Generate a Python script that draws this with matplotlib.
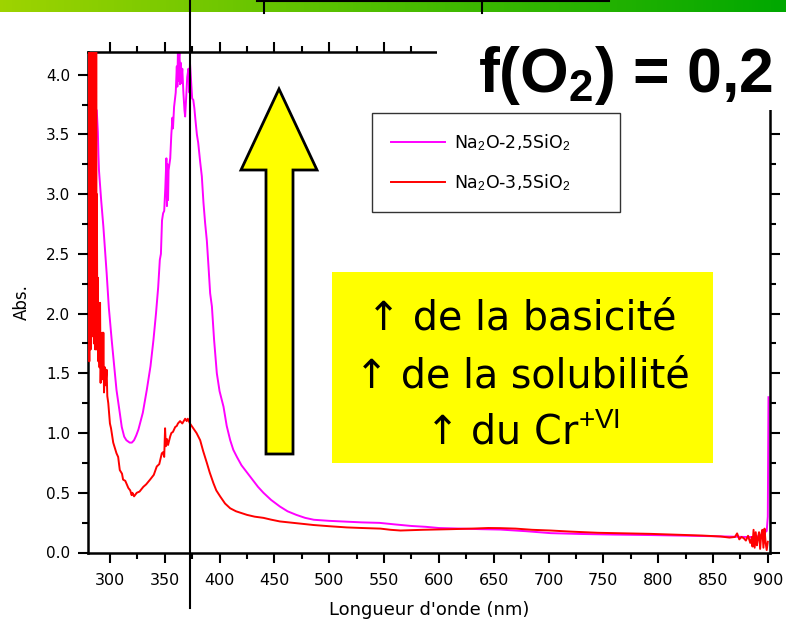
import matplotlib
matplotlib.use('Agg')
import matplotlib.pyplot as plt
import numpy as np
from matplotlib.patches import Rectangle, Polygon
from matplotlib.lines import Line2D
from matplotlib.colors import LinearSegmentedColormap

plt.rcParams['font.family'] = ['DejaVu Sans']
plt.rcParams['mathtext.fontset'] = 'custom'
plt.rcParams['mathtext.rm'] = 'Liberation Sans'
plt.rcParams['mathtext.it'] = 'Liberation Sans:italic'
plt.rcParams['mathtext.bf'] = 'Liberation Sans:bold'

# ---------------- data ----------------
label_a = "Na$_2$O-2,5SiO$_2$"
label_b = "Na$_2$O-3,5SiO$_2$"

wl_a = [288, 289, 289.5, 290, 292, 294, 296, 297, 299, 301.6, 304, 306, 308.5, 310.8, 313, 315,
        318, 320, 322, 324, 326, 330, 333.6, 337, 339.7, 342, 344, 345.5, 346.5, 347.5, 348.5,
        349.5, 350.5, 351.5, 352.0, 352.5, 353.0, 353.5, 355, 356, 357, 357.5, 358.5, 360, 361,
        361.5, 362, 362.5, 363, 363.5, 364, 364.5, 365, 366, 367, 368, 368.6, 369.5, 370.5,
        371.6, 372.5, 373, 374, 375, 376, 377, 378, 379.3, 380.5, 382.3, 383.8, 385.3, 386.8,
        388.4, 390, 391.4, 393, 395, 397.5, 400, 403.6, 406.5, 409.7, 412.5, 415.8, 420, 425,
        430, 435, 440, 447, 455, 462, 470, 478, 486, 500, 516, 530, 546, 560, 575, 588, 600,
        620, 640, 656, 680, 702, 730, 760, 793, 830, 862, 880, 888, 893, 896, 899, 900, 900.6]
abs_a = [3.70, 3.52, 3.33, 3.20, 2.95, 2.73, 2.47, 2.34, 2.05, 1.78, 1.55, 1.36, 1.20, 1.05, 0.97,
         0.94, 0.92, 0.92, 0.94, 0.98, 1.03, 1.17, 1.36, 1.56, 1.78, 2.00, 2.22, 2.45, 2.50, 2.78,
         2.84, 2.86, 3.05, 3.30, 2.90, 3.25, 2.95, 3.20, 3.30, 3.50, 3.64, 3.55, 3.73, 3.85, 4.07,
         3.90, 4.19, 3.95, 4.15, 4.20, 3.92, 4.10, 3.93, 4.05, 3.85, 3.70, 3.65, 3.80, 3.98, 4.05,
         3.85, 4.10, 3.95, 3.80, 3.79, 3.72, 3.62, 3.50, 3.43, 3.27, 3.15, 2.93, 2.76, 2.61, 2.38,
         2.17, 2.06, 1.78, 1.50, 1.35, 1.22, 1.06, 0.94, 0.86, 0.80, 0.73, 0.67, 0.61, 0.55, 0.50,
         0.44, 0.385, 0.345, 0.315, 0.29, 0.274, 0.265, 0.258, 0.252, 0.248, 0.235, 0.222, 0.215,
         0.205, 0.200, 0.195, 0.192, 0.178, 0.162, 0.155, 0.150, 0.146, 0.140, 0.134, 0.13, 0.13,
         0.14, 0.16, 0.18, 0.30, 1.30]

wl_b = [280.0, 280.3, 280.6, 280.9, 281.2, 281.5, 281.8, 282.1, 282.4, 282.7, 283.0, 283.3, 283.6,
        283.9, 284.2, 284.5, 284.8, 285.1, 285.4, 285.7, 286.0, 286.3, 286.6, 286.9, 287.2, 287.5,
        287.8, 288.1, 288.5, 289, 289.5, 290, 290.5, 291, 291.5, 292, 292.5, 293, 293.5, 294,
        294.6, 295.5, 296, 297, 297.6, 298.5, 300, 301, 303, 306, 307.5, 309, 311, 312, 314,
        316.8, 318.5, 319.8, 320.5, 322, 324.5, 327, 330.5, 333, 336.6, 340, 342.7, 345, 347.3,
        348.5, 349.5, 350.3, 351, 352, 353, 354.9, 356, 357.5, 359.5, 361, 362, 364, 366, 368.6,
        370, 371, 373, 376, 379, 382.3, 385, 388.4, 391, 394.4, 397, 400.5, 405, 409.7, 415, 420,
        425, 432, 440, 447, 455, 470, 485.8, 500, 516, 530, 546.7, 556, 565, 585, 610, 630, 645,
        656, 670, 685, 702, 720, 745, 770, 793, 820, 840, 857, 865, 870, 872, 874, 876, 878, 880,
        882, 884, 885.5, 886, 887, 888, 889, 890, 891, 892, 893, 894, 895, 896, 897, 898, 899, 900]
abs_b = [1.80, 4.6, 2.2, 4.6, 1.6, 4.6, 2.4, 4.6, 1.7, 4.6, 2.17, 4.6, 1.9, 4.6, 1.81, 4.4, 2.3,
         4.6, 1.75, 4.0, 2.5, 4.6, 1.70, 3.6, 1.9, 4.5, 1.70, 3.0, 1.80, 2.30, 1.60, 2.09, 1.55,
         2.09, 1.42, 1.70, 1.60, 1.84, 1.45, 1.84, 1.34, 1.55, 1.40, 1.53, 1.31, 1.25, 1.08, 1.04,
         0.92, 0.83, 0.80, 0.69, 0.66, 0.61, 0.60, 0.54, 0.52, 0.48, 0.50, 0.47, 0.50, 0.51, 0.55,
         0.57, 0.61, 0.65, 0.72, 0.74, 0.83, 0.84, 0.80, 1.04, 0.89, 0.95, 0.90, 0.97, 1.00, 1.01,
         1.05, 1.06, 1.08, 1.10, 1.08, 1.12, 1.10, 1.12, 1.08, 1.04, 1.00, 0.94, 0.85, 0.75, 0.67,
         0.58, 0.52, 0.47, 0.41, 0.37, 0.345, 0.33, 0.315, 0.30, 0.29, 0.275, 0.26, 0.245, 0.23,
         0.22, 0.21, 0.205, 0.20, 0.19, 0.184, 0.19, 0.195, 0.20, 0.205, 0.204, 0.20, 0.19, 0.184,
         0.175, 0.165, 0.16, 0.156, 0.148, 0.142, 0.134, 0.125, 0.13, 0.16, 0.11, 0.13, 0.12, 0.10,
         0.14, 0.08, 0.13, 0.05, 0.19, 0.04, 0.17, 0.06, 0.12, 0.17, 0.03, 0.15, 0.19, 0.04, 0.20,
         0.08, 0.02, 0.09]

x_ticks = [300, 350, 400, 450, 500, 550, 600, 650, 700, 750, 800, 850, 900]
y_ticks = [0.0, 0.5, 1.0, 1.5, 2.0, 2.5, 3.0, 3.5, 4.0]
marker_wl = 373  # vertical reference line (nm)

title = r"f(O$_\mathbf{2}$) = 0,2"
box_lines = ["\u2191 de la basicit\u00e9", "\u2191 de la solubilit\u00e9", "\u2191 du Cr$^{+\\mathrm{VI}}$"]

# ---------------- figure ----------------
W, H = 786, 627
fig = plt.figure(figsize=(W / 100, H / 100), dpi=100)
fig.patch.set_facecolor('white')

def fx(px):
    return px / W

def fy(py):
    return 1 - py / H

# green banner with gradient
gax = fig.add_axes([0, fy(12), 1, 12 / H], zorder=1)
cmap = LinearSegmentedColormap.from_list('g', [(0.62, 0.83, 0.0), (0.30, 0.74, 0.0), (0.0, 0.66, 0.0)])
gax.imshow(np.linspace(0, 1, 256)[None, :], aspect='auto', cmap=cmap, extent=[0, 1, 0, 1])
gax.set_axis_off()

ax = fig.add_axes([fx(88), fy(552.5), fx(770) - fx(88), fy(52) - fy(552.5)], zorder=0)
ax.plot(wl_a, abs_a, color='#FF00FF', lw=1.4, label=label_a, zorder=2)
ax.plot(wl_b, abs_b, color='#FF0000', lw=1.4, label=label_b, zorder=3)

ax.set_xlim(280, 902)
ax.set_ylim(0, 4.19)
ax.set_xticks(x_ticks)
ax.set_xticks(np.arange(325, 901, 50), minor=True)
ax.set_yticks(y_ticks)
ax.set_yticks(np.arange(0.25, 4.1, 0.5), minor=True)
ax.set_yticklabels([f"{v:.1f}" for v in y_ticks])
ax.tick_params(which='both', direction='out', top=True, right=True,
               labeltop=False, labelright=False, width=1.5, colors='black')
ax.tick_params(which='major', length=7)
ax.tick_params(which='minor', length=4)
ax.tick_params(axis='x', which='major', pad=8, labelsize=11.5)
ax.tick_params(axis='y', which='major', pad=6, labelsize=11)
for s in ax.spines.values():
    s.set_linewidth(1.8)
ax.set_xlabel("Longueur d'onde (nm)", fontsize=13, labelpad=9)
ax.set_ylabel("Abs.", fontsize=12, labelpad=11)

leg = ax.legend(loc='upper left',
                bbox_to_anchor=(fx(372), fy(217), fx(620) - fx(372), fy(113) - fy(217)),
                bbox_transform=fig.transFigure, mode='expand',
                fontsize=12.5, frameon=True, fancybox=False, edgecolor='#333333', framealpha=1,
                borderpad=1.1, labelspacing=1.1, handlelength=3.1, handletextpad=0.55,
                borderaxespad=0)
leg.get_frame().set_linewidth(1.0)

# white cover for the title area
fig.add_artist(Rectangle((fx(437), fy(110)), 1 - fx(437), fy(13) - fy(110),
                         transform=fig.transFigure, facecolor='white', edgecolor='none', zorder=5))
fig.text(fx(478), fy(92), title, fontsize=45, fontweight='bold', family='Liberation Sans',
         va='baseline', ha='left', zorder=6)

# yellow arrow
arrow_px = [(279, 89), (317, 170), (293, 170), (293, 454), (266, 454), (266, 170), (241, 170)]
fig.add_artist(Polygon([(fx(x), fy(y)) for x, y in arrow_px], closed=True, transform=fig.transFigure,
                       facecolor='#FFFF00', edgecolor='black', lw=2, zorder=4))

# yellow text box
fig.add_artist(Rectangle((fx(332), fy(463)), fx(713) - fx(332), fy(272) - fy(463),
                         transform=fig.transFigure, facecolor='#FFFF00', edgecolor='none', zorder=4))
for line, base in zip(box_lines, [330, 388, 443]):
    fig.text(fx(522), fy(base), line, fontsize=28.5, ha='center', va='baseline', zorder=5)

# vertical reference line (figure-wide)
xline = ax.transData.transform((marker_wl, 0))[0] / fig.bbox.width
fig.add_artist(Line2D([xline, xline], [fy(608), 1], transform=fig.transFigure,
                      color='black', lw=1.5, zorder=7))

# black marks inside banner
fig.add_artist(Line2D([fx(257), fx(609)], [fy(0.7), fy(0.7)], transform=fig.transFigure,
                      color='black', lw=1.5, zorder=7))
for xp in (264, 482):
    fig.add_artist(Line2D([fx(xp), fx(xp)], [fy(0), fy(13)], transform=fig.transFigure,
                          color='black', lw=1.5, zorder=7))

fig.savefig('out.png', dpi=100)
